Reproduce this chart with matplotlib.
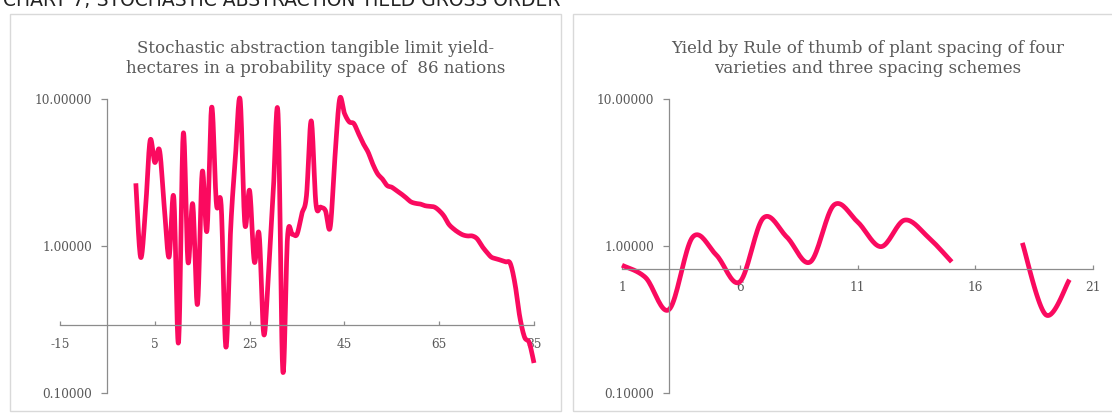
import numpy as np
import matplotlib.pyplot as plt
from matplotlib.patches import Rectangle

# yield-hectares for the 86 nations (index 1..85)
nation_idx = np.arange(1, 86)
nation_yield = [2.67, 0.84, 1.7, 5.2, 3.7, 4.47, 1.84, 0.84, 2.15, 0.22,
                5.8, 0.78, 1.93, 0.40, 3.18, 1.27, 8.8, 1.93, 1.89, 0.205,
                1.3, 4.0, 9.9, 1.41, 2.38, 0.78, 1.21, 0.25, 0.68, 2.38,
                7.9, 0.142, 1.15, 1.2, 1.2, 1.65, 2.2, 7.1, 1.93, 1.84,
                1.74, 1.34, 4.0, 10.0, 8.0, 7.0, 6.8, 5.8, 4.96, 4.35,
                3.6, 3.1, 2.86, 2.58, 2.51, 2.38, 2.26, 2.13, 2.0, 1.95,
                1.93, 1.88, 1.86, 1.84, 1.74, 1.6, 1.41, 1.31, 1.24, 1.19,
                1.17, 1.17, 1.12, 1.0, 0.91, 0.84, 0.82, 0.80, 0.78, 0.76,
                0.55, 0.33, 0.24, 0.22, 0.16]

# plant spacing trial, 16 and 17 missing
spacing_idx = np.arange(1, 21)
spacing_yield = [0.74, 0.61, 0.37, 1.15, 0.87, 0.57, 1.55, 1.15, 0.78, 1.9,
                 1.46, 0.99, 1.5, 1.15, 0.78, np.nan, np.nan, 1.05, 0.34, 0.59]

left_title = "Stochastic abstraction tangible limit yield-\nhectares in a probability space of  86 nations"
right_title = "Yield by Rule of thumb of plant spacing of four\nvarieties and three spacing schemes"
header = "CHART 7; STOCHASTIC ABSTRACTION YIELD GROSS ORDER"

PINK = "#FA0A5F"
GREY = "#595959"
SERIF = "DejaVu Serif"


def smooth(x, y, steps=20):
    # catmull-rom curve through the points (log space), like a spreadsheet "smoothed line"
    x = np.asarray(x, float)
    ly = np.log10(np.asarray(y, float))
    px = np.r_[x[0], x, x[-1]]
    py = np.r_[ly[0], ly, ly[-1]]
    xs, ys = [], []
    t = np.linspace(0, 1, steps, endpoint=False)
    for i in range(1, len(px) - 2):
        for p, out in ((px, xs), (py, ys)):
            p0, p1, p2, p3 = p[i - 1], p[i], p[i + 1], p[i + 2]
            out.append(0.5 * (2 * p1 + (-p0 + p2) * t
                              + (2 * p0 - 5 * p1 + 4 * p2 - p3) * t ** 2
                              + (-p0 + 3 * p1 - 3 * p2 + p3) * t ** 3))
    xs.append([x[-1]])
    ys.append([ly[-1]])
    return np.concatenate(xs), 10 ** np.concatenate(ys)


def plot_segments(ax, x, y):
    x = np.asarray(x, float)
    y = np.asarray(y, float)
    ok = ~np.isnan(y)
    # split on gaps
    start = None
    for i in range(len(y) + 1):
        if i < len(y) and ok[i]:
            if start is None:
                start = i
        elif start is not None:
            sx, sy = smooth(x[start:i], y[start:i])
            ax.plot(sx, sy, color=PINK, lw=3.4, solid_capstyle='butt', clip_on=False)
            start = None


def style_axis(ax, xlim, xticks, ycross_x, xcross_y):
    ax.set_yscale('log')
    ax.set_ylim(0.1, 10)
    ax.set_xlim(*xlim)
    ax.set_yticks([0.1, 1, 10])
    ax.set_yticklabels(["0.10000", "1.00000", "10.00000"])
    ax.minorticks_off()
    ax.set_xticks(xticks)
    ax.set_xticklabels([str(v) for v in xticks])
    for s in ('top', 'right'):
        ax.spines[s].set_visible(False)
    ax.spines['left'].set_position(('data', ycross_x))
    ax.spines['bottom'].set_position(('data', xcross_y))
    for s in ('left', 'bottom'):
        ax.spines[s].set_color("#8c8c8c")
        ax.spines[s].set_linewidth(0.9)
    ax.tick_params(axis='y', direction='out', length=4, width=0.9, color="#8c8c8c",
                   pad=7, labelsize=8.7, labelcolor=GREY)
    ax.tick_params(axis='x', direction='in', length=3, width=0.9, color="#8c8c8c",
                   pad=9, labelsize=8.7, labelcolor=GREY)
    for lab in ax.get_xticklabels() + ax.get_yticklabels():
        lab.set_family(SERIF)
    ax.patch.set_alpha(0)


fig = plt.figure(figsize=(11.12, 4.15), dpi=100)

# panel frames
fig.patches.append(Rectangle((10 / 1112, 4 / 415), 551 / 1112, 397 / 415,
                             transform=fig.transFigure, fill=False,
                             ec="#d9d9d9", lw=1))
fig.patches.append(Rectangle((573 / 1112, 4 / 415), 545 / 1112, 397 / 415,
                             transform=fig.transFigure, fill=False,
                             ec="#d9d9d9", lw=1))

fig.text(0.003, 1 - 5.5 / 415, header, fontsize=13.5, color="#222222",
         family="DejaVu Sans", va='baseline')

ax1 = fig.add_axes([60 / 1112, 22 / 415, 474 / 1112, 294 / 415])
plot_segments(ax1, nation_idx, nation_yield)
style_axis(ax1, (-15, 85), [-15, 5, 25, 45, 65, 85], -5, 0.29)

ax2 = fig.add_axes([622 / 1112, 22 / 415, 471 / 1112, 294 / 415])
plot_segments(ax2, spacing_idx, spacing_yield)
style_axis(ax2, (1, 21), [1, 6, 11, 16, 21], 3, 0.7)

fig.text(316 / 1112, 1 - 58.5 / 415, left_title, ha='center', va='center',
         fontsize=12, color=GREY, family=SERIF, linespacing=1.25)
fig.text(868 / 1112, 1 - 58.5 / 415, right_title, ha='center', va='center',
         fontsize=12, color=GREY, family=SERIF, linespacing=1.25)

fig.savefig("out.png", dpi=100)
